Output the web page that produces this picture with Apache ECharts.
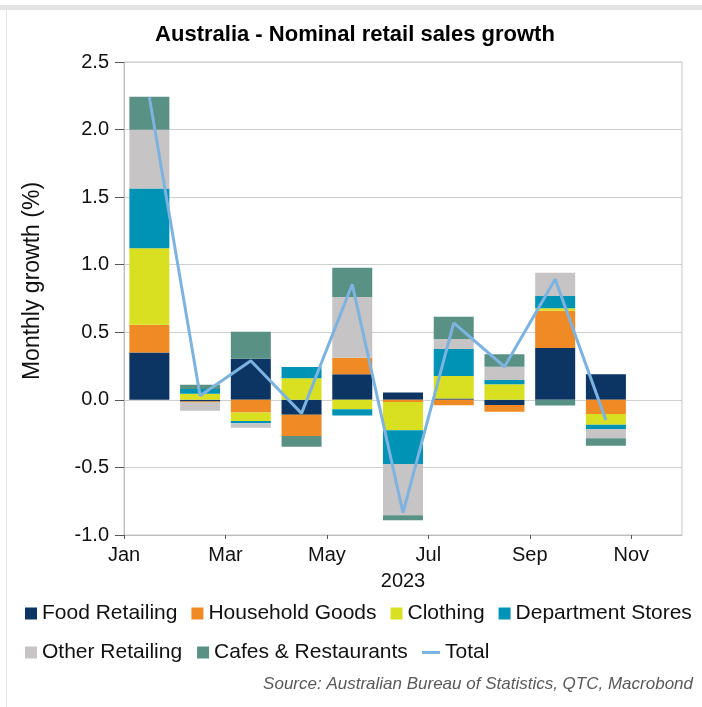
<!DOCTYPE html>
<html>
<head>
<meta charset="utf-8">
<title>Australia - Nominal retail sales growth</title>
<script src="https://cdn.jsdelivr.net/npm/echarts@6/dist/echarts.min.js"></script>
<style>
  html, body { margin: 0; padding: 0; background: #ffffff; }
  #chart { width: 702px; height: 707px; }
</style>
</head>
<body>
<div id="chart"></div>
<script>
// Monthly retail sales growth by industry, 2023 (% m/m contribution)
const months = ['Jan', 'Feb', 'Mar', 'Apr', 'May', 'Jun', 'Jul', 'Aug', 'Sep', 'Oct', 'Nov'];
const monthTickLabels = ['Jan', 'Feb', 'Mar', 'Apr', 'May', 'Jun', 'Jul', 'Aug', 'Sep', 'Oct', 'Nov', 'Dec'];

const foodRetailing     = [0.350, -0.012,  0.304, -0.110,  0.189,  0.055,  0.010, -0.038,  0.383,  0.190];
const householdGoods    = [0.205, -0.008, -0.093, -0.158,  0.123, -0.015, -0.040, -0.050,  0.277, -0.104];
const clothing          = [0.567,  0.045, -0.064,  0.159, -0.070, -0.209,  0.166,  0.115,  0.017, -0.080];
const departmentStores  = [0.442,  0.035, -0.017,  0.084, -0.045, -0.251,  0.200,  0.032,  0.091, -0.032];
const otherRetailing    = [0.435, -0.060, -0.032,  0.000,  0.449, -0.378,  0.074,  0.098,  0.172, -0.069];
const cafesRestaurants  = [0.243,  0.032,  0.200, -0.079,  0.217, -0.037,  0.165,  0.092, -0.041, -0.055];
const total             = [2.240,  0.030,  0.290, -0.100,  0.855, -0.835,  0.570,  0.245,  0.892, -0.150];

const yTicks = { min: -1.0, max: 2.5, step: 0.5 };

const seriesDefs = [
  { name: 'Food Retailing',      values: foodRetailing,    color: '#0c3563' },
  { name: 'Household Goods',     values: householdGoods,   color: '#f08a24' },
  { name: 'Clothing',            values: clothing,         color: '#d9e021' },
  { name: 'Department Stores',   values: departmentStores, color: '#0093b6' },
  { name: 'Other Retailing',     values: otherRetailing,   color: '#c6c4c5' },
  { name: 'Cafes & Restaurants', values: cafesRestaurants, color: '#5a9185' }
];

const FONT = '"Liberation Sans", Arial, sans-serif';
const TEXT = '#111111';

// bars and the total line live on a hidden monthly category axis (one slot per month);
// a second, visible value axis in months carries the tick marks and month labels
const series = seriesDefs.map(d => ({
  name: d.name,
  type: 'bar',
  stack: 'contrib',
  stackStrategy: 'samesign',
  xAxisIndex: 0,
  barWidth: 40,
  itemStyle: { color: d.color },
  emphasis: { disabled: true },
  data: d.values
}));

series.push({
  name: 'Total',
  type: 'line',
  xAxisIndex: 0,
  symbol: 'none',
  lineStyle: { color: '#7db3e1', width: 3 },
  itemStyle: { color: '#7db3e1' },
  emphasis: { disabled: true },
  z: 5,
  data: total
});

const legendText = { fontFamily: FONT, fontSize: 21, color: TEXT };

const option = {
  animation: false,
  backgroundColor: '#ffffff',
  title: {
    text: 'Australia - Nominal retail sales growth',
    left: 355,
    textAlign: 'center',
    top: 24,
    padding: 0,
    textStyle: { fontFamily: FONT, fontSize: 22, fontWeight: 'bold', color: '#000000' }
  },
  grid: {
    left: 124, right: 20, top: 62, bottom: 172,
    show: true,
    borderColor: '#c8c8c8',
    borderWidth: 1
  },
  xAxis: [
    {
      type: 'category',
      data: months,
      boundaryGap: true,
      show: false
    },
    {
      type: 'value',
      min: 0,
      max: 11,
      interval: 2,
      position: 'bottom',
      name: '2023',
      nameLocation: 'middle',
      nameGap: 36,
      nameTextStyle: { fontFamily: FONT, fontSize: 20, color: TEXT },
      axisLine: { show: true, onZero: false, lineStyle: { color: '#bdbdbd', width: 1 } },
      axisTick: { show: true, length: 4, lineStyle: { color: '#555555' } },
      axisLabel: {
        fontFamily: FONT, fontSize: 20, color: TEXT, margin: 10,
        showMaxLabel: false,
        formatter: v => (v % 2 === 0 ? monthTickLabels[v] : '')
      },
      splitLine: { show: false }
    }
  ],
  yAxis: {
    type: 'value',
    min: yTicks.min,
    max: yTicks.max,
    interval: yTicks.step,
    axisLine: { show: true, lineStyle: { color: '#bdbdbd', width: 1 } },
    axisTick: { show: true, length: 9, lineStyle: { color: '#555555' } },
    axisLabel: {
      fontFamily: FONT, fontSize: 20, color: TEXT, margin: 15,
      formatter: v => v.toFixed(1)
    },
    splitLine: { show: true, lineStyle: { color: '#cfcfcf', width: 1 } }
  },
  legend: [
    {
      data: ['Food Retailing', 'Household Goods', 'Clothing', 'Department Stores'],
      left: 25, top: 603, padding: 0,
      itemWidth: 12, itemHeight: 12, itemGap: 14,
      icon: 'rect', selectedMode: false,
      textStyle: legendText
    },
    {
      data: ['Other Retailing', 'Cafes & Restaurants'],
      left: 25, top: 642, padding: 0,
      itemWidth: 12, itemHeight: 12, itemGap: 15,
      icon: 'rect', selectedMode: false,
      textStyle: legendText
    },
    {
      data: ['Total'],
      left: 422, top: 642, padding: 0,
      itemWidth: 18, itemHeight: 3,
      icon: 'rect', selectedMode: false,
      textStyle: legendText
    }
  ],
  graphic: [
    { type: 'rect', shape: { x: 0, y: 5, width: 702, height: 5 }, style: { fill: '#e4e4e4' }, silent: true },
    { type: 'rect', shape: { x: 6, y: 10, width: 1, height: 697 }, style: { fill: '#e4e4e4' }, silent: true },
    {
      // y-axis title, rotated
      type: 'text',
      x: 33, y: 281,
      rotation: Math.PI / 2,
      style: {
        text: 'Monthly growth (%)',
        fontFamily: FONT, fontSize: 23, fill: TEXT,
        align: 'center', verticalAlign: 'middle'
      },
      silent: true
    },
    {
      type: 'text',
      right: 9, top: 676,
      style: {
        text: 'Source: Australian Bureau of Statistics, QTC, Macrobond',
        fontFamily: FONT, fontSize: 17, fontStyle: 'italic', fill: '#595959'
      },
      silent: true
    }
  ],
  series: series
};

const chart = echarts.init(document.getElementById('chart'), null, { renderer: 'canvas' });
chart.setOption(option);
</script>
</body>
</html>
